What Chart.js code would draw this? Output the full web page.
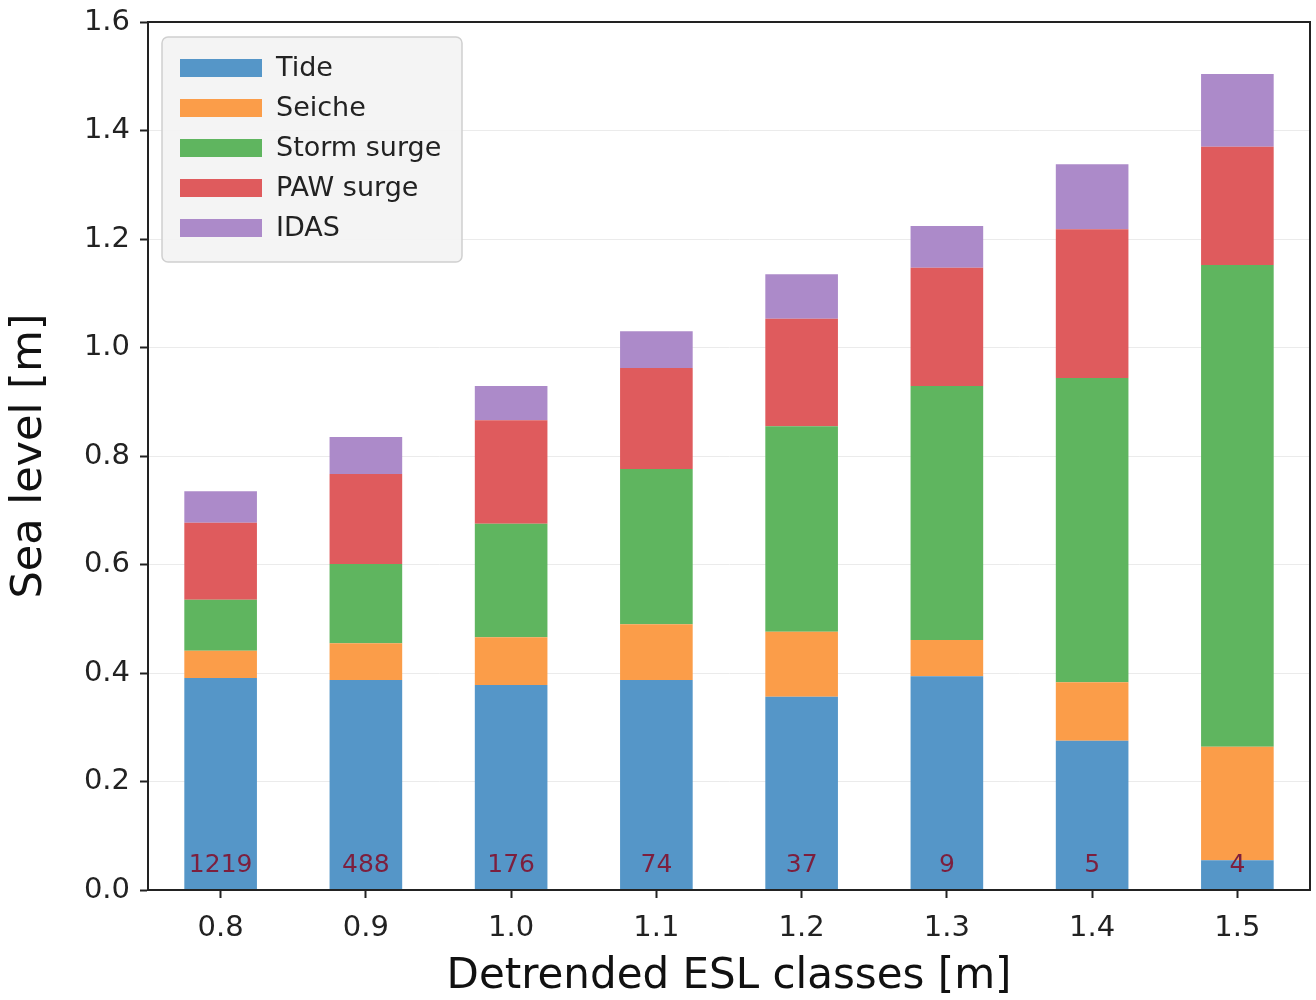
<!DOCTYPE html>
<html>
<head>
<meta charset="utf-8">
<script src="https://cdn.jsdelivr.net/npm/chart.js@4.4.1/dist/chart.umd.min.js"></script>
<style>
  html, body { margin: 0; padding: 0; background: #ffffff; }
  #wrap { width: 1316px; height: 1000px; }
</style>
</head>
<body>
<div id="wrap"><canvas id="c" width="1316" height="1000"></canvas></div>
<script>
// ESL classes (detrended) and number of events in each class
const classes = ['0.8', '0.9', '1.0', '1.1', '1.2', '1.3', '1.4', '1.5'];
const counts = [1219, 488, 176, 74, 37, 9, 5, 4];

// Mean contribution of each component to sea level [m]
const tide       = [0.391, 0.387, 0.378, 0.387, 0.356, 0.394, 0.275, 0.055];
const seiche     = [0.050, 0.068, 0.088, 0.103, 0.120, 0.067, 0.108, 0.209];
const stormSurge = [0.094, 0.146, 0.209, 0.286, 0.379, 0.468, 0.561, 0.888];
const pawSurge   = [0.142, 0.166, 0.191, 0.186, 0.198, 0.218, 0.274, 0.218];
const idas       = [0.058, 0.068, 0.063, 0.068, 0.082, 0.077, 0.120, 0.134];

const yTicks = [0, 0.2, 0.4, 0.6, 0.8, 1.0, 1.2, 1.4, 1.6];

const FONT = "'DejaVu Sans', sans-serif";
const INK = '#222222';

function series(label, data, color) {
  return {
    label, data,
    backgroundColor: color,
    borderWidth: 0,
    categoryPercentage: 1.0,
    barPercentage: 0.5
  };
}

// Axes frame (all four spines)
const framePlugin = {
  id: 'frame',
  afterDraw(chart) {
    const a = chart.chartArea, ctx = chart.ctx;
    ctx.save();
    ctx.strokeStyle = INK;
    ctx.lineWidth = 2;
    ctx.strokeRect(a.left, a.top, a.right - a.left, a.bottom - a.top);
    ctx.restore();
  }
};

// Event counts written at the foot of each bar
const countPlugin = {
  id: 'counts',
  afterDatasetsDraw(chart) {
    const ctx = chart.ctx, meta = chart.getDatasetMeta(0);
    const y = chart.scales.y.getPixelForValue(0.046);
    ctx.save();
    ctx.font = "25px " + FONT;
    ctx.fillStyle = '#7c1f3e';
    ctx.textAlign = 'center';
    ctx.textBaseline = 'middle';
    meta.data.forEach((bar, i) => ctx.fillText(String(counts[i]), bar.x, y));
    ctx.restore();
  }
};

// Legend box in the upper-left corner of the plot
const legendPlugin = {
  id: 'boxLegend',
  afterDraw(chart) {
    const ctx = chart.ctx, a = chart.chartArea;
    const x0 = a.left + 14, y0 = a.top + 15, w = 300, h = 225, r = 6;
    ctx.save();
    ctx.beginPath();
    ctx.moveTo(x0 + r, y0);
    ctx.arcTo(x0 + w, y0, x0 + w, y0 + h, r);
    ctx.arcTo(x0 + w, y0 + h, x0, y0 + h, r);
    ctx.arcTo(x0, y0 + h, x0, y0, r);
    ctx.arcTo(x0, y0, x0 + w, y0, r);
    ctx.closePath();
    ctx.fillStyle = 'rgba(243,243,243,0.95)';
    ctx.fill();
    ctx.strokeStyle = '#d0d0d0';
    ctx.lineWidth = 1.5;
    ctx.stroke();
    ctx.font = "27px " + FONT;
    ctx.textBaseline = 'middle';
    ctx.textAlign = 'left';
    chart.data.datasets.forEach((ds, i) => {
      const cy = y0 + 31 + i * 40;
      ctx.fillStyle = ds.backgroundColor;
      ctx.fillRect(x0 + 18, cy - 9, 82, 18);
      ctx.fillStyle = INK;
      ctx.fillText(ds.label, x0 + 114, cy + 1);
    });
    ctx.restore();
  }
};

new Chart(document.getElementById('c'), {
  type: 'bar',
  data: {
    labels: classes,
    datasets: [
      series('Tide', tide, '#5596c8'),
      series('Seiche', seiche, '#fb9d49'),
      series('Storm surge', stormSurge, '#5fb55f'),
      series('PAW surge', pawSurge, '#df5b5d'),
      series('IDAS', idas, '#ac8ac9')
    ]
  },
  options: {
    responsive: false,
    animation: false,
    layout: { padding: { top: 22, right: 6, bottom: 0, left: 0 } },
    plugins: {
      legend: { display: false },
      tooltip: { enabled: false }
    },
    scales: {
      x: {
        stacked: true,
        offset: true,
        afterFit(s) { s.height = 110; s.paddingLeft = 0; s.paddingRight = 0; },
        grid: {
          offset: false,
          drawOnChartArea: false,
          drawTicks: true,
          tickLength: 8,
          tickColor: INK,
          tickWidth: 2
        },
        border: { display: true, color: INK, width: 2 },
        ticks: {
          color: INK,
          font: { family: FONT, size: 29 },
          padding: 13,
          maxRotation: 0
        },
        title: {
          display: true,
          text: 'Detrended ESL classes [m]',
          color: '#111',
          font: { family: FONT, size: 42 },
          padding: { top: 0, bottom: -2 }
        }
      },
      y: {
        stacked: true,
        min: 0,
        max: 1.6,
        afterFit(s) { s.width = 148; s.paddingTop = 0; s.paddingBottom = 0; },
        afterBuildTicks(s) { s.ticks = yTicks.map(v => ({ value: v })); },
        grid: {
          color: '#ebebeb',
          lineWidth: 1,
          drawTicks: true,
          tickLength: 8,
          tickColor: INK,
          tickWidth: 2
        },
        border: { display: true, color: INK, width: 2 },
        ticks: {
          color: INK,
          font: { family: FONT, size: 29 },
          padding: 10,
          callback: v => Number(v).toFixed(1)
        },
        title: {
          display: true,
          text: 'Sea level [m]',
          color: '#111',
          font: { family: FONT, size: 43 },
          padding: { top: 4, bottom: 0 }
        }
      }
    }
  },
  plugins: [framePlugin, countPlugin, legendPlugin]
});
</script>
</body>
</html>
